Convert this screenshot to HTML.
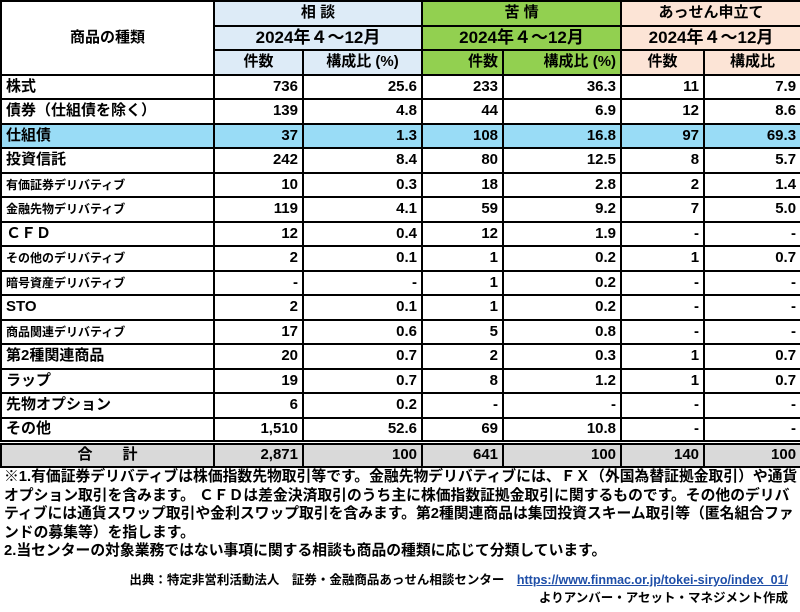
<!DOCTYPE html>
<html><head><meta charset="utf-8"><style>
body{margin:0;width:800px;height:612px;background:#fff;font-family:"Liberation Sans","Noto Sans CJK JP",sans-serif;overflow:hidden;position:relative}
table{position:absolute;left:0;top:0;border-collapse:collapse;table-layout:fixed;width:800px}
tr{height:24.5px}
td{border:2px solid #000;padding:0 4px;font-size:15px;font-weight:bold;text-align:right;white-space:nowrap;line-height:18px;overflow:hidden}
td.l{text-align:left}
td.c{text-align:center}
td.s{font-size:12px}
.b{background:#ddebf7}.g{background:#92d050}.p{background:#fce4d6}
tr.hl td{background:#99dcf6}
tr.tot{height:25px}
tr.tot td{background:#d9d9d9;border-top:5px double #000}
.note{position:absolute;left:4px;top:468px;font-size:14.8px;font-weight:bold;line-height:18.6px;white-space:nowrap}
.src{position:absolute;right:12px;top:571px;font-size:12.5px;font-weight:bold;text-align:right;line-height:18px;white-space:nowrap}
.src a{color:#1f4fa8;text-decoration:underline}
</style></head><body>
<table>
<colgroup><col style="width:213px"><col style="width:89px"><col style="width:119px"><col style="width:81px"><col style="width:118px"><col style="width:83px"><col style="width:97px"></colgroup>
<tr><td rowspan="3" class="c">商品の種類</td><td colspan="2" class="c b">相 談</td><td colspan="2" class="c g">苦 情</td><td colspan="2" class="c p">あっせん申立て</td></tr>
<tr><td colspan="2" class="c b" style="font-size:17px">2024年４～12月</td><td colspan="2" class="c g" style="font-size:17px">2024年４～12月</td><td colspan="2" class="c p" style="font-size:17px">2024年４～12月</td></tr>
<tr><td class="c b">件数</td><td class="c b">構成比 (%)</td><td class="g">件数</td><td class="g">構成比 (%)</td><td class="c p">件数</td><td class="c p">構成比</td></tr>
<tr><td class="l">株式</td><td>736</td><td>25.6</td><td>233</td><td>36.3</td><td>11</td><td>7.9</td></tr>
<tr><td class="l">債券（仕組債を除く）</td><td>139</td><td>4.8</td><td>44</td><td>6.9</td><td>12</td><td>8.6</td></tr>
<tr class="hl"><td class="l">仕組債</td><td>37</td><td>1.3</td><td>108</td><td>16.8</td><td>97</td><td>69.3</td></tr>
<tr><td class="l">投資信託</td><td>242</td><td>8.4</td><td>80</td><td>12.5</td><td>8</td><td>5.7</td></tr>
<tr><td class="l s">有価証券デリバティブ</td><td>10</td><td>0.3</td><td>18</td><td>2.8</td><td>2</td><td>1.4</td></tr>
<tr><td class="l s">金融先物デリバティブ</td><td>119</td><td>4.1</td><td>59</td><td>9.2</td><td>7</td><td>5.0</td></tr>
<tr><td class="l">ＣＦＤ</td><td>12</td><td>0.4</td><td>12</td><td>1.9</td><td>-</td><td>-</td></tr>
<tr><td class="l s">その他のデリバティブ</td><td>2</td><td>0.1</td><td>1</td><td>0.2</td><td>1</td><td>0.7</td></tr>
<tr><td class="l s">暗号資産デリバティブ</td><td>-</td><td>-</td><td>1</td><td>0.2</td><td>-</td><td>-</td></tr>
<tr><td class="l">STO</td><td>2</td><td>0.1</td><td>1</td><td>0.2</td><td>-</td><td>-</td></tr>
<tr><td class="l s">商品関連デリバティブ</td><td>17</td><td>0.6</td><td>5</td><td>0.8</td><td>-</td><td>-</td></tr>
<tr><td class="l">第2種関連商品</td><td>20</td><td>0.7</td><td>2</td><td>0.3</td><td>1</td><td>0.7</td></tr>
<tr><td class="l">ラップ</td><td>19</td><td>0.7</td><td>8</td><td>1.2</td><td>1</td><td>0.7</td></tr>
<tr><td class="l">先物オプション</td><td>6</td><td>0.2</td><td>-</td><td>-</td><td>-</td><td>-</td></tr>
<tr><td class="l">その他</td><td>1,510</td><td>52.6</td><td>69</td><td>10.8</td><td>-</td><td>-</td></tr>
<tr class="tot"><td class="c">合　　計</td><td>2,871</td><td>100</td><td>641</td><td>100</td><td>140</td><td>100</td></tr>
</table>
<div class="note">※1.有価証券デリバティブは株価指数先物取引等です。金融先物デリバティブには、ＦＸ（外国為替証拠金取引）や通貨<br>オプション取引を含みます。 ＣＦＤは差金決済取引のうち主に株価指数証拠金取引に関するものです。その他のデリバ<br>ティブには通貨スワップ取引や金利スワップ取引を含みます。第2種関連商品は集団投資スキーム取引等（匿名組合ファ<br>ンドの募集等）を指します。<br>2.当センターの対象業務ではない事項に関する相談も商品の種類に応じて分類しています。</div>
<div class="src">出典：特定非営利活動法人　証券・金融商品あっせん相談センター　<a>https://www.finmac.or.jp/tokei-siryo/index_01/</a><br>よりアンバー・アセット・マネジメント作成</div>
</body></html>
